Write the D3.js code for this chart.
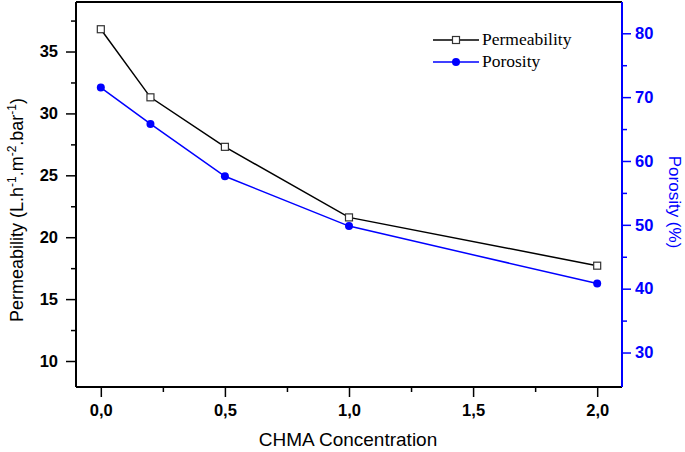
<!DOCTYPE html>
<html><head><meta charset="utf-8">
<script src="https://cdn.jsdelivr.net/npm/d3@7"></script>
<style>body{margin:0;background:#fff}svg{display:block}</style>
</head><body>
<script>
const concentrations = [0, 0.2, 0.5, 1.0, 2.0];
const permeability = [36.8, 31.3, 27.3, 21.6, 17.7];
const porosity = [71.5, 65.8, 57.6, 49.8, 40.8];
const xTicks = [0, 0.5, 1.0, 1.5, 2.0];
const leftTicks = [10, 15, 20, 25, 30, 35];
const rightTicks = [30, 40, 50, 60, 70, 80];

const W = 685, H = 452;
const m = {left: 76, right: 63, top: 2, bottom: 65};
const svg = d3.select("body").append("svg").attr("width", W).attr("height", H);

const x = d3.scaleLinear().domain([-0.1, 2.1]).range([m.left, W - m.right]);
const yL = d3.scaleLinear().domain([7.9, 39]).range([H - m.bottom, m.top]);
const yR = d3.scaleLinear().domain([24.6, 84.9]).range([H - m.bottom, m.top]);
const blue = "#0000ff";
const fmt = d => d3.format(".1f")(d).replace(".", ",");
const SANS = "Liberation Sans, Arial";

// top border
svg.append("line").attr("x1", m.left).attr("x2", W - m.right).attr("y1", m.top).attr("y2", m.top)
  .attr("stroke", "#000").attr("stroke-width", 2);

// bottom axis
const gx = svg.append("g").attr("transform", `translate(0,${H - m.bottom})`);
gx.call(d3.axisBottom(x).tickValues([0.25, 0.75, 1.25, 1.75]).tickSize(5).tickFormat(""));
gx.call(g => g.append("g").call(d3.axisBottom(x).tickValues(xTicks).tickSize(10).tickPadding(7).tickFormat(fmt)));
gx.selectAll("path.domain").attr("stroke-width", 2).attr("d", `M${m.left},0H${W - m.right}`);
gx.selectAll("line").attr("stroke-width", 1.5);
gx.selectAll("text").attr("font-family", SANS).attr("font-weight", "bold").attr("font-size", 16.5).attr("fill", "#000");

// left axis
const gl = svg.append("g").attr("transform", `translate(${m.left},0)`);
gl.call(d3.axisLeft(yL).tickValues([12.5, 17.5, 22.5, 27.5, 32.5, 37.5]).tickSize(5).tickFormat(""));
gl.call(g => g.append("g").call(d3.axisLeft(yL).tickValues(leftTicks).tickSize(10).tickPadding(8)));
gl.selectAll("path.domain").attr("stroke-width", 2).attr("d", `M0,${m.top}V${H - m.bottom}`);
gl.selectAll("line").attr("stroke-width", 1.5);
gl.selectAll("text").attr("font-family", SANS).attr("font-weight", "bold").attr("font-size", 16.5).attr("fill", "#000");

// right axis
const gr = svg.append("g").attr("transform", `translate(${W - m.right},0)`);
gr.call(d3.axisRight(yR).tickValues([35, 45, 55, 65, 75]).tickSize(5).tickFormat(""));
gr.call(g => g.append("g").call(d3.axisRight(yR).tickValues(rightTicks).tickSize(9).tickPadding(4)));
gr.selectAll("path.domain").attr("stroke", blue).attr("stroke-width", 2).attr("d", `M0,${m.top}V${H - m.bottom}`);
gr.selectAll("line").attr("stroke", blue).attr("stroke-width", 1.5);
gr.selectAll("text").attr("font-family", SANS).attr("font-weight", "bold").attr("font-size", 16.5).attr("fill", blue);

// titles
const lt = svg.append("text").attr("transform", `translate(23,210) rotate(-90)`)
  .attr("text-anchor", "middle").attr("font-family", SANS).attr("font-size", 18).attr("fill", "#000");
lt.append("tspan").text("Permeability (L.h");
lt.append("tspan").attr("dy", -7).attr("font-size", 12).text("-1");
lt.append("tspan").attr("dy", 7).text(".m");
lt.append("tspan").attr("dy", -7).attr("font-size", 12).text("-2");
lt.append("tspan").attr("dy", 7).text(".bar");
lt.append("tspan").attr("dy", -7).attr("font-size", 12).text("-1");
lt.append("tspan").attr("dy", 7).text(")");

svg.append("text").attr("transform", `translate(669,202) rotate(90)`)
  .attr("text-anchor", "middle").attr("font-family", SANS).attr("font-size", 17).attr("fill", blue)
  .text("Porosity (%)");

svg.append("text").attr("x", 348).attr("y", 446).attr("text-anchor", "middle")
  .attr("font-family", SANS).attr("font-size", 19).attr("fill", "#000")
  .text("CHMA Concentration");

// lines
const permData = concentrations.map((c, i) => [c, permeability[i]]);
const poroData = concentrations.map((c, i) => [c, porosity[i]]);
svg.append("path").datum(poroData).attr("fill", "none").attr("stroke", blue).attr("stroke-width", 1.5)
  .attr("d", d3.line().x(d => x(d[0])).y(d => yR(d[1])));
svg.append("path").datum(permData).attr("fill", "none").attr("stroke", "#000").attr("stroke-width", 1.5)
  .attr("d", d3.line().x(d => x(d[0])).y(d => yL(d[1])));

svg.selectAll("circle.poro").data(poroData).enter().append("circle")
  .attr("cx", d => x(d[0])).attr("cy", d => yR(d[1])).attr("r", 4).attr("fill", blue);
svg.selectAll("rect.perm").data(permData).enter().append("rect")
  .attr("x", d => x(d[0]) - 3.5).attr("y", d => yL(d[1]) - 3.5).attr("width", 7).attr("height", 7)
  .attr("fill", "#fff").attr("stroke", "#333").attr("stroke-width", 1.2);

// legend
const leg = svg.append("g");
const items = [{name: "Permeability", color: "#000", sym: "sq"}, {name: "Porosity", color: blue, sym: "ci"}];
items.forEach((it, i) => {
  const y = 40 + i * 22;
  leg.append("line").attr("x1", 433).attr("x2", 479).attr("y1", y).attr("y2", y).attr("stroke", it.color).attr("stroke-width", 1.5);
  if (it.sym === "sq") leg.append("rect").attr("x", 452.5).attr("y", y - 3.5).attr("width", 7).attr("height", 7).attr("fill", "#fff").attr("stroke", "#333").attr("stroke-width", 1.2);
  else leg.append("circle").attr("cx", 456).attr("cy", y).attr("r", 4).attr("fill", blue);
  leg.append("text").attr("x", 482).attr("y", y + 5).attr("font-family", "Liberation Serif, Times New Roman").attr("font-size", 17.5).attr("fill", "#000").text(it.name);
});
</script>
</body></html>
